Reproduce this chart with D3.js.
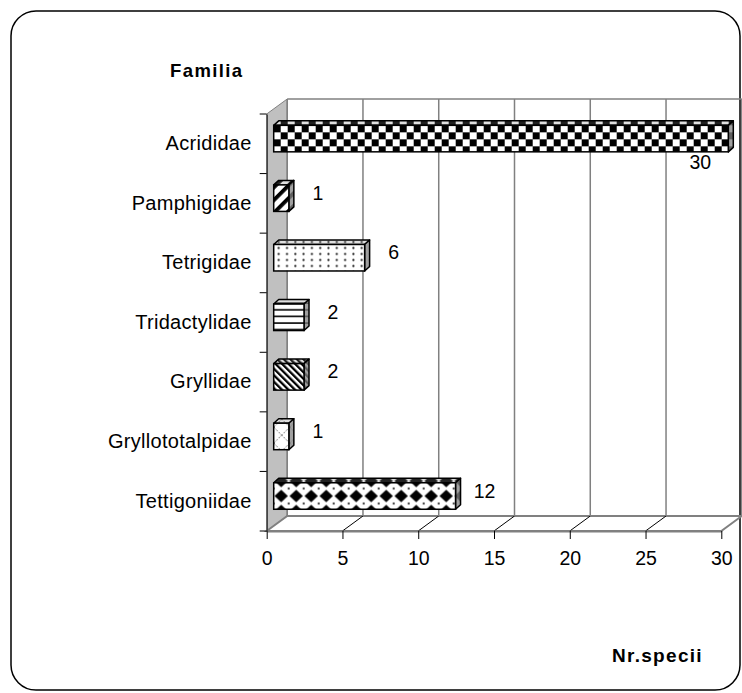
<!DOCTYPE html>
<html>
<head>
<meta charset="utf-8">
<script src="https://cdn.jsdelivr.net/npm/d3@7"></script>
<style>
  html, body { margin: 0; padding: 0; background: #fff; }
  svg { display: block; font-family: "Liberation Sans", Arial, sans-serif; }
</style>
</head>
<body>
<svg id="chart" width="742" height="693"></svg>
<script>
/* Familia vs Nr.specii — 3D horizontal bar chart (Excel style) */
var families = ['Acrididae', 'Pamphigidae', 'Tetrigidae', 'Tridactylidae',
                'Gryllidae', 'Gryllototalpidae', 'Tettigoniidae'];
var species = [30, 1, 6, 2, 2, 1, 12];
var xTicks = [0, 5, 10, 15, 20, 25, 30];
var fills = ['checker', 'wideUp', 'dots', 'hlines', 'denseDown', 'cross', 'diamond'];

(function () {
  'use strict';

  var svg = d3.select('#chart');
  var defs = svg.append('defs');

  // floor / wall depth and bar depth
  var DX = 20.5, DY = -15;
  var BDX = 5, BDY = -4.5;
  var OX = 7, OY = -5.2, BH = 26.5;

  var x = d3.scaleLinear().domain([0, 30]).range([266.7, 721.3]);
  var y = d3.scaleBand().domain(families).range([114, 531]).padding(0);
  var y0 = y.range()[0], y1 = y.range()[1];

  svg.append('rect').attr('width', 742).attr('height', 693).attr('fill', '#fff');
  svg.append('rect')
    .attr('x', 11).attr('y', 11).attr('width', 729).attr('height', 679)
    .attr('rx', 25).attr('ry', 25)
    .attr('fill', '#fff').attr('stroke', '#000').attr('stroke-width', 1.5);

  /* side wall */
  svg.append('polygon')
    .attr('points', [[x(0), y0], [x(0) + DX, y0 + DY], [x(0) + DX, y1 + DY], [x(0), y1]].join(' '))
    .attr('fill', '#c0c0c0').attr('stroke', '#808080').attr('stroke-width', 1);

  /* floor */
  svg.append('polygon')
    .attr('points', [[x(0), y1], [x(0) + DX, y1 + DY], [x(30) + DX, y1 + DY], [x(30), y1]].join(' '))
    .attr('fill', '#fff').attr('stroke', '#808080').attr('stroke-width', 2);

  svg.append('g').selectAll('line.fd')
    .data(xTicks.slice(1, -1)).enter().append('line')
    .attr('x1', function (d) { return x(d); }).attr('y1', y1)
    .attr('x2', function (d) { return x(d) + DX; }).attr('y2', y1 + DY)
    .attr('stroke', '#000').attr('stroke-width', 1);

  /* back wall grid */
  svg.append('g').selectAll('line.grid')
    .data(xTicks).enter().append('line')
    .attr('x1', function (d) { return x(d) + DX; }).attr('y1', y0 + DY)
    .attr('x2', function (d) { return x(d) + DX; }).attr('y2', y1 + DY)
    .attr('stroke', '#808080').attr('stroke-width', 1.5);
  svg.append('line')
    .attr('x1', x(0) + DX).attr('y1', y0 + DY)
    .attr('x2', x(30) + DX).attr('y2', y0 + DY)
    .attr('stroke', '#808080').attr('stroke-width', 1.5);

  /* x axis */
  var xAxis = svg.append('g')
    .attr('transform', 'translate(0,' + y1 + ')')
    .call(d3.axisBottom(x).tickValues(xTicks).tickSize(8).tickPadding(12).tickSizeOuter(0));
  xAxis.select('.domain').attr('stroke', '#808080').attr('stroke-width', 2);
  xAxis.selectAll('.tick line').attr('stroke', '#000').attr('stroke-width', 1);
  xAxis.selectAll('.tick text')
    .attr('font-size', '19.5px').attr('font-family', 'Liberation Sans, Arial, sans-serif')
    .attr('fill', '#000');

  /* y axis */
  var yAxis = svg.append('g')
    .attr('transform', 'translate(' + x(0) + ',0)')
    .call(d3.axisLeft(y).tickSize(0).tickPadding(15));
  yAxis.select('.domain').attr('stroke', '#404040').attr('stroke-width', 1.5);
  yAxis.selectAll('.tick text')
    .attr('font-size', '20px').attr('letter-spacing', '0.3px')
    .attr('font-family', 'Liberation Sans, Arial, sans-serif')
    .attr('fill', '#000');

  var seps = families.map(function (f) { return y(f); }).concat([y1]);
  svg.append('g').selectAll('line')
    .data(seps).enter().append('line')
    .attr('x1', x(0) - 7).attr('x2', x(0))
    .attr('y1', function (d) { return d; }).attr('y2', function (d) { return d; })
    .attr('stroke', '#000').attr('stroke-width', 1);

  /* patterns */
  function makePattern(id, kind, px, py) {
    var p = defs.append('pattern').attr('id', id).attr('patternUnits', 'userSpaceOnUse');
    if (kind === 'checker') {
      p.attr('width', 14).attr('height', 14).attr('patternTransform', 'translate(' + px + ',' + py + ')');
      p.append('rect').attr('width', 14).attr('height', 14).attr('fill', '#fff');
      p.append('rect').attr('width', 7).attr('height', 7).attr('fill', '#000');
      p.append('rect').attr('x', 7).attr('y', 7).attr('width', 7).attr('height', 7).attr('fill', '#000');
    } else if (kind === 'wideUp') {
      p.attr('width', 9).attr('height', 9).attr('patternTransform', 'translate(' + px + ',' + py + ') rotate(45)');
      p.append('rect').attr('width', 9).attr('height', 9).attr('fill', '#fff');
      p.append('rect').attr('width', 3.8).attr('height', 9).attr('fill', '#000');
    } else if (kind === 'denseDown') {
      p.attr('width', 4.6).attr('height', 4.6).attr('patternTransform', 'translate(' + px + ',' + py + ') rotate(-45)');
      p.append('rect').attr('width', 4.6).attr('height', 4.6).attr('fill', '#fff');
      p.append('rect').attr('width', 2.3).attr('height', 4.6).attr('fill', '#000');
    } else if (kind === 'dots') {
      p.attr('width', 8.3).attr('height', 6).attr('patternTransform', 'translate(' + px + ',' + py + ')');
      p.append('rect').attr('width', 8.3).attr('height', 6).attr('fill', '#fff');
      p.append('circle').attr('cx', 5).attr('cy', 3.5).attr('r', 1.1).attr('fill', '#000');
    } else if (kind === 'hlines') {
      p.attr('width', 8).attr('height', 6.6).attr('patternTransform', 'translate(' + px + ',' + py + ')');
      p.append('rect').attr('width', 8).attr('height', 6.6).attr('fill', '#fff');
      p.append('rect').attr('y', 5).attr('width', 8).attr('height', 1.6).attr('fill', '#000');
    } else if (kind === 'cross') {
      p.attr('width', 16).attr('height', 16).attr('patternTransform', 'translate(' + px + ',' + (py + 4) + ')');
      p.append('rect').attr('width', 16).attr('height', 16).attr('fill', '#fff');
      p.append('path').attr('d', 'M0,16L16,0M0,0L16,16')
        .attr('stroke', '#444').attr('stroke-width', 0.8).attr('stroke-dasharray', '2,1.5');
    } else if (kind === 'diamond') {
      p.attr('width', 15).attr('height', 15).attr('patternTransform', 'translate(' + px + ',' + py + ')');
      p.append('rect').attr('width', 15).attr('height', 15).attr('fill', '#fff');
      p.append('path').attr('d', 'M7.5,1.2L14.2,7.5L7.5,13.8L0.8,7.5Z').attr('fill', '#000');
      p.append('path').attr('d', 'M0,0L1.2,0L0,1.2ZM15,0L13.8,0L15,1.2ZM0,15L1.2,15L0,13.8ZM15,15L13.8,15L15,13.8Z')
        .attr('fill', '#000');
    }
  }

  /* bars */
  var bars = svg.append('g');
  families.forEach(function (f, i) {
    var v = species[i];
    var cy = y(f) + y.bandwidth() / 2;
    var fx0 = x(0) + OX, fx1 = x(v) + OX;
    var fy0 = cy + OY - BH / 2, fy1 = fy0 + BH;
    var id = 'pat' + i;
    var py = fills[i] === 'diamond' ? (fy0 + BH / 2 - 7.5) : fy0;
    makePattern(id, fills[i], fx0, py);

    var g = bars.append('g');
    var top = [[fx0, fy0], [fx0 + BDX, fy0 + BDY], [fx1 + BDX, fy0 + BDY], [fx1, fy0]];
    var side = [[fx1, fy0], [fx1 + BDX, fy0 + BDY], [fx1 + BDX, fy1 + BDY], [fx1, fy1]];

    g.append('polygon').attr('points', top.join(' '))
      .attr('fill', 'url(#' + id + ')');
    g.append('polygon').attr('points', top.join(' '))
      .attr('fill', '#808080').attr('fill-opacity', 0.25)
      .attr('stroke', '#000').attr('stroke-width', 1.5).attr('stroke-linejoin', 'round');
    g.append('polygon').attr('points', side.join(' '))
      .attr('fill', 'url(#' + id + ')');
    g.append('polygon').attr('points', side.join(' '))
      .attr('fill', '#808080').attr('fill-opacity', 0.75)
      .attr('stroke', '#000').attr('stroke-width', 1.5).attr('stroke-linejoin', 'round');
    g.append('rect')
      .attr('x', fx0).attr('y', fy0).attr('width', fx1 - fx0).attr('height', BH)
      .attr('fill', 'url(#' + id + ')')
      .attr('stroke', '#000').attr('stroke-width', 1.5);

    // value label
    var lx = x(v) + 36, ly = cy - 3.6;
    if (lx + 12 > x(30)) { lx = x(v) - 21; ly = cy + 25; }
    svg.append('text')
      .attr('x', lx).attr('y', ly)
      .attr('text-anchor', 'middle')
      .attr('font-size', '19.5px').attr('fill', '#000')
      .text(v);
  });

  /* axis titles */
  svg.append('text')
    .attr('x', 170).attr('y', 76.5)
    .attr('font-size', '18.5px').attr('font-weight', 'bold').attr('letter-spacing', '1.4px')
    .text('Familia');
  svg.append('text')
    .attr('x', 612).attr('y', 661.5)
    .attr('font-size', '19px').attr('font-weight', 'bold').attr('letter-spacing', '1.3px')
    .text('Nr.specii');
})();
</script>
</body>
</html>
